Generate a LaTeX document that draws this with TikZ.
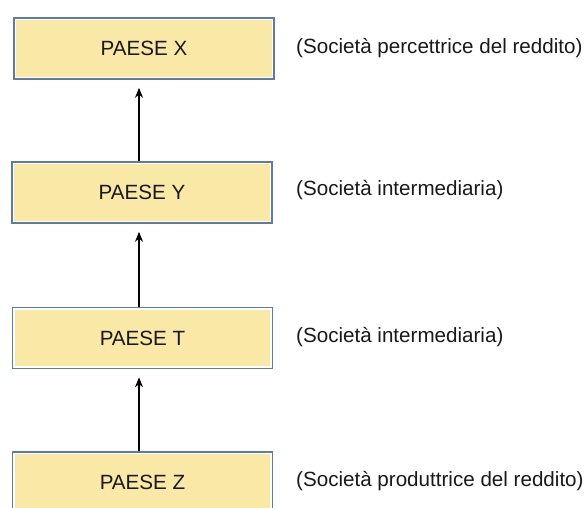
\documentclass[tikz,border=0pt]{standalone}
\usepackage{fontspec}
\setmainfont{Liberation Sans}
\usetikzlibrary{arrows.meta}
\definecolor{boxfill}{RGB}{250,232,166}
\definecolor{boxedge}{RGB}{92,124,160}
\definecolor{txt}{RGB}{25,25,25}
\begin{document}
\begin{tikzpicture}[x=1pt,y=-1pt,
  paese/.style={draw=boxedge, line width=1.6pt, fill=boxfill,
    minimum width=260pt, minimum height=61pt, inner sep=0pt, text=txt,
    font=\fontsize{20.6}{24}\selectfont,
    path picture={\draw[white,line width=4.4pt] (path picture bounding box.south west) rectangle (path picture bounding box.north east);}},
  note/.style={anchor=west, inner sep=0pt, text=txt, font=\fontsize{20.6}{24}\selectfont},
  arr/.style={-{Stealth[length=10pt,width=8pt]}, line width=1.3pt, black, shorten >=8pt}]
\useasboundingbox (0,0) rectangle (587,507);
\fill[white] (0,0) rectangle (587,507);
\node[paese] (X) at (144,48.5) {PAESE X};
\node[paese] (Y) at (142,192.5) {PAESE Y};
\node[paese] (T) at (142.5,338) {PAESE T};
\node[paese] (Z) at (142.5,482.5) {PAESE Z};
\node[note] (nX) at (296,48) {(Società percettrice del reddito)};
\node[note] (nY) at (296,190) {(Società intermediaria)};
\node[note] (nT) at (296,337) {(Società intermediaria)};
\node[note] (nZ) at (296,481) {(Società produttrice del reddito)};
\coordinate (ax) at (139,0);
\draw[arr] (Y.north -| ax) -- (X.south -| ax);
\draw[arr] (T.north -| ax) -- (Y.south -| ax);
\draw[arr] (Z.north -| ax) -- (T.south -| ax);
\end{tikzpicture}
\end{document}
